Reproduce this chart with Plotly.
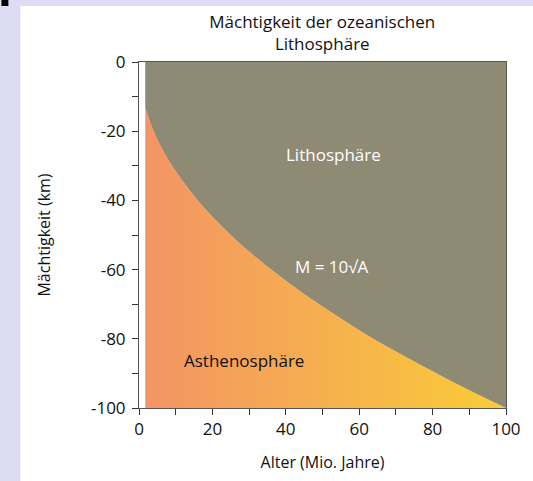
import plotly.graph_objects as go

# Data
ages = [1.7, 2.5, 3.5, 5, 7.5, 10, 15, 20, 25, 30, 40, 50, 60, 70, 80, 90, 100]          # Mio. Jahre
thickness = [-13, -15.8, -18.7, -22.4, -27.4, -31.6, -38.7, -44.7, -50, -54.8, -63.2, -70.7,
             -77.5, -83.7, -89.4, -94.9, -100]  # km
x_ticks = [0, 20, 40, 60, 80, 100]
y_ticks = [0, -20, -40, -60, -80, -100]
y_ticktext = ["0", "-20", "-40", "-60", "-80", "-100"]

bottom = [-100] * len(ages)
top = [0] * len(ages)

GRAY = "#8f8a74"
FONT = "Open Sans"

fig = go.Figure()
fig.add_trace(go.Scatter(x=ages, y=bottom, mode="lines", line=dict(width=0),
                         hoverinfo="skip", showlegend=False))
fig.add_trace(go.Scatter(x=ages, y=thickness, mode="lines", line=dict(width=0, shape="spline"),
                         fill="tonexty",
                         fillgradient=dict(type="horizontal",
                                           colorscale=[[0, "#f39465"], [1, "#f9cc36"]]),
                         showlegend=False))
fig.add_trace(go.Scatter(x=ages, y=top, mode="lines", line=dict(width=0),
                         fill="tonexty", fillcolor=GRAY, hoverinfo="skip",
                         showlegend=False))

L, R, T, B = 138.5, 25, 62, 73
W, H = 533, 481
pw, ph = W - L - R, H - T - B

def px(xp):
    return (xp - L) / pw

def py(yp):
    return (H - B - yp) / ph

fig.update_layout(
    width=W, height=H,
    margin=dict(l=L, r=R, t=T, b=B),
    paper_bgcolor="#dedcf4",
    plot_bgcolor="rgba(0,0,0,0)",
    font=dict(family=FONT, size=17, color="#111"),
    title=dict(text="Mächtigkeit der ozeanischen<br>Lithosphäre", xref="paper", x=px(323),
               xanchor="center", yref="container", y=1 - 28 / H, yanchor="middle",
               font=dict(size=17, family=FONT)),
    shapes=[
        dict(type="rect", xref="paper", yref="paper", x0=px(19), x1=px(540), y0=py(6), y1=py(490),
             fillcolor="white", line=dict(width=0), layer="below"),
        dict(type="rect", xref="paper", yref="paper", x0=px(0), x1=px(7), y0=py(0), y1=py(6),
             fillcolor="black", line=dict(width=0), layer="below"),
    ],
    xaxis=dict(range=[0, 100], tickvals=x_ticks, ticks="outside", ticklen=6, tickcolor="#333",
               showgrid=False, zeroline=False, showline=True, linecolor="#555", linewidth=1,
               mirror=True, minor=dict(dtick=10, ticks="outside", ticklen=6, tickcolor="#333"),
               title=dict(text="Alter (Mio. Jahre)", standoff=17, font=dict(size=16)),
               tickfont=dict(size=17)),
    yaxis=dict(range=[-100, 0], tickvals=y_ticks, ticktext=y_ticktext, ticks="outside", ticklen=6,
               tickcolor="#333", showgrid=False, zeroline=False, showline=True, linecolor="#555",
               linewidth=1, mirror=True, ticklabelstandoff=3,
               minor=dict(dtick=10, ticks="outside", ticklen=6, tickcolor="#333"),
               title=dict(text="Mächtigkeit (km)", standoff=36, font=dict(size=16)),
               tickfont=dict(size=17)),
    annotations=[
        dict(x=52.9, y=-26.6, text="Lithosphäre", showarrow=False, font=dict(color="white", size=17)),
        dict(x=52.6, y=-59.2, text="M = 10√A", showarrow=False, font=dict(color="white", size=17)),
        dict(x=28.5, y=-86.3, text="Asthenosphäre", showarrow=False, font=dict(color="#111", size=17)),
    ],
)

fig.write_html("out.html", config={"displayModeBar": False},
               post_script="document.body.style.margin='0';document.body.style.overflow='hidden';")
